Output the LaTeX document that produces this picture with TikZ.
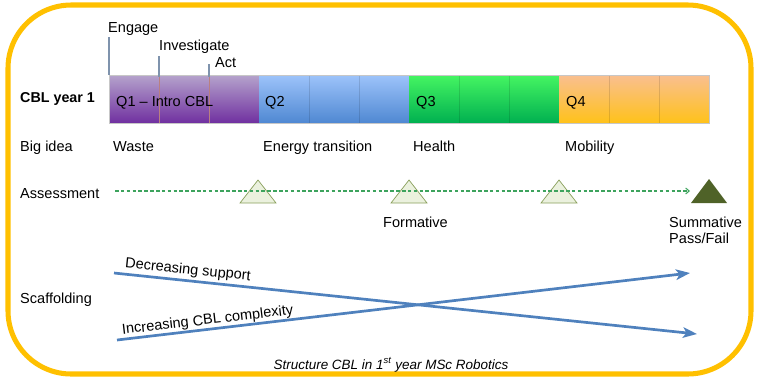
\documentclass[tikz,border=0pt]{standalone}
\usepackage{fontspec}
\setmainfont{Liberation Sans}
\usetikzlibrary{arrows.meta}
\definecolor{cblgold}{HTML}{FFC000}
\definecolor{qonetop}{HTML}{B5A3CC}
\definecolor{qonebot}{HTML}{7030A0}
\definecolor{qtwotop}{HTML}{9DC3FA}
\definecolor{qtwobot}{HTML}{4F88D2}
\definecolor{qthreetop}{HTML}{45F562}
\definecolor{qthreebot}{HTML}{00B050}
\definecolor{qfourtop}{HTML}{F9BF90}
\definecolor{qfourbot}{HTML}{FFC21A}
\definecolor{markgray}{HTML}{7F93AD}
\definecolor{assessline}{HTML}{8AA05C}
\definecolor{assessfill}{HTML}{EBF1DE}
\definecolor{summfill}{HTML}{4F6228}
\definecolor{dashgreen}{HTML}{3DA35D}
\definecolor{scaffblue}{HTML}{4F81BD}

\begin{document}
\begin{tikzpicture}[x=0.03cm,y=-0.03cm,
    txt/.style={font=\fontsize{12.4}{14}\selectfont,inner sep=0pt,anchor=base west},
    slopetxt/.style={font=\fontsize{12.4}{14}\selectfont,inner sep=1.5pt},
    marker/.style={draw=markgray,line width=0.9pt},
    formative/.style={fill=assessfill,draw=assessline,line width=0.6pt},
    assessdash/.style={draw=dashgreen,line width=0.9pt,dash pattern=on 3pt off 2pt,-{Straight Barb[length=3pt,width=5pt]}},
    scaffold/.style={draw=scaffblue,line width=2.3pt,-{Stealth[length=12pt,width=9pt,inset=3pt]}}]
  \useasboundingbox (0,0) rectangle (761,379);
  % frame
  \draw[cblgold,line width=4.3pt,rounded corners=54pt] (8,5) rectangle (751,374);

  % quarters
  \foreach \xa/\ct/\cb in {109/qonetop/qonebot,259/qtwotop/qtwobot,409/qthreetop/qthreebot,559/qfourtop/qfourbot}
    \shade[top color=\ct,bottom color=\cb] (\xa,75) rectangle (\xa+150,123);
  \foreach \x in {309,359,459,509,609,659}
    \draw[black,opacity=0.12,line width=0.6pt] (\x,75) -- (\x,123);
  \foreach \x in {159,209}
    \draw[red!45!black!50,line width=0.4pt] (\x,75) -- (\x,123);
  \draw[black!22,line width=0.5pt] (109,75) rectangle (709,123);

  \node[txt,font=\bfseries\fontsize{12.2}{14}\selectfont] (year) at (20,102) {CBL year 1};
  \node[txt] (qone) at (116,106) {Q1 – Intro CBL};
  \node[txt] (qtwo) at (265,106) {Q2};
  \node[txt] (qthree) at (416,106) {Q3};
  \node[txt] (qfour) at (566,106) {Q4};

  % engage / investigate / act
  \node[txt] (engage) at (108,32) {Engage};
  \node[txt] (investigate) at (159,50) {Investigate};
  \node[txt] (act) at (215,67) {Act};
  \foreach \n/\x/\y/\yb in {engage/109/37/75,investigate/159/56/77,act/209/64/77}{
    \coordinate (\n-top) at (\x,\y);
    \coordinate (\n-foot) at (\x,\yb);
    \draw[marker] (\n-top) -- (\n-foot);
  }

  % big ideas
  \node[txt] (bigidea) at (20,151) {Big idea};
  \node[txt] (waste) at (113,151) {Waste};
  \node[txt] (energy) at (263,151) {Energy transition};
  \node[txt] (health) at (413,151) {Health};
  \node[txt] (mobility) at (565,151) {Mobility};

  % assessment
  \node[txt] (assessment) at (20,198) {Assessment};
  \foreach \x in {258,409,559}
    \draw[formative] (\x,180) -- (\x+18,203) -- (\x-18,203) -- cycle;
  \fill[summfill] (709,179) -- (727,203) -- (691,203) -- cycle;
  \coordinate (assess-start) at (115,191);
  \coordinate (assess-end) at (690,191);
  \draw[assessdash] (assess-start) -- (assess-end);
  \node[txt] (formative) at (383,227) {Formative};
  \node[txt] (summative) at (669,227) {Summative};
  \node[txt] (passfail) at (669,243) {Pass/Fail};

  % scaffolding
  \node[txt] (scaffolding) at (20,303) {Scaffolding};
  \coordinate (dec-start) at (114,273);
  \coordinate (dec-end) at (697,334);
  \coordinate (inc-start) at (117,340);
  \coordinate (inc-end) at (690,273);
  \draw[scaffold] (dec-start) -- (dec-end)
    node[slopetxt,pos=0.125,sloped,above,inner sep=2pt] (declbl) {Decreasing support};
  \draw[scaffold] (inc-start) -- (inc-end)
    node[slopetxt,pos=0.16,sloped,above,inner sep=0.5pt] (inclbl) {Increasing CBL complexity};

  \node[font=\itshape\fontsize{11.5}{13}\selectfont,inner sep=0pt,anchor=base] (caption) at (391,369)
    {Structure CBL in 1\textsuperscript{st} year MSc Robotics};
\end{tikzpicture}
\end{document}
